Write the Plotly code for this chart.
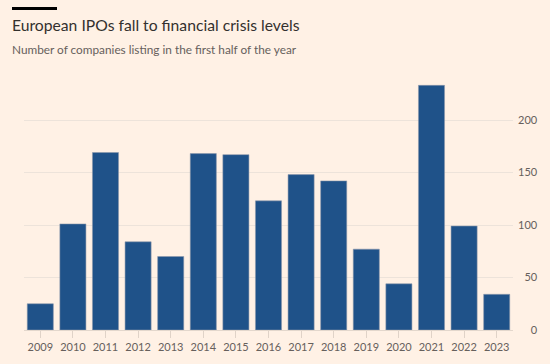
import plotly.graph_objects as go

years = ["2009", "2010", "2011", "2012", "2013", "2014", "2015", "2016",
         "2017", "2018", "2019", "2020", "2021", "2022", "2023"]
ipos = [25, 101, 169, 84, 70, 168, 167, 123, 148, 142, 77, 44, 233, 99, 34]
y_tickvals = [0, 50, 100, 150, 200]
y_ticktext = ["\u2007\u20070", "\u200750", "100", "150", "200"]

BG = "#FFF1E5"
BAR = "#1F5289"
FONT = "Lato, 'Open Sans', sans-serif"

L, R, T, B = 24, 37, 78, 34
W, H = 550, 364
pw, ph = W - L - R, H - T - B

def px_x(x):
    return (x - L) / pw

def px_y(y):
    return (H - B - y) / ph

fig = go.Figure()
fig.add_trace(go.Bar(
    x=years, y=ipos,
    marker=dict(color=BAR, line=dict(color="rgba(140,150,170,0.7)", width=0.8)),
    hoverinfo="x+y",
))

fig.update_layout(
    width=W, height=H,
    margin=dict(l=L, r=R, t=T, b=B, autoexpand=False),
    paper_bgcolor=BG, plot_bgcolor=BG,
    bargap=0.2,
    showlegend=False,
    font=dict(family=FONT, color="#66605C"),
    title=dict(
        text="European IPOs fall to financial crisis levels",
        x=12 / W, xanchor="left", xref="container",
        y=1 - 25.5 / H, yanchor="middle", yref="container",
        font=dict(size=15.7, color="#33302E", family=FONT),
    ),
    annotations=[dict(
        text="Number of companies listing in the first half of the year",
        xref="paper", yref="paper",
        x=px_x(10.5), y=px_y(50), xanchor="left", yanchor="middle",
        showarrow=False, borderpad=0,
        font=dict(size=11.8, color="#66605C", family=FONT),
    )],
    shapes=[dict(
        type="line", xref="paper", yref="paper",
        x0=px_x(12), x1=px_x(57), y0=px_y(8.5), y1=px_y(8.5),
        line=dict(color="#000000", width=3),
    )],
    xaxis=dict(
        type="category",
        showgrid=False, showline=False, zeroline=False,
        ticks="outside", ticklen=7, tickwidth=1, tickcolor="#E0D3C8",
        tickfont=dict(size=11, color="#66605C"),
        automargin=False, fixedrange=True,
    ),
    yaxis=dict(
        side="right", range=[0, 240],
        tickvals=y_tickvals, ticktext=y_ticktext,
        showgrid=True, gridcolor="#EDE3DA", gridwidth=1,
        zeroline=True, zerolinecolor="#E3D7CC", zerolinewidth=1,
        ticks="", ticklabelstandoff=4,
        tickfont=dict(size=11, color="#66605C"),
        automargin=False, fixedrange=True,
    ),
)

fig.write_html(
    "out.html",
    config={"displayModeBar": False},
    post_script="document.body.style.margin='0';document.body.style.padding='0';",
)
